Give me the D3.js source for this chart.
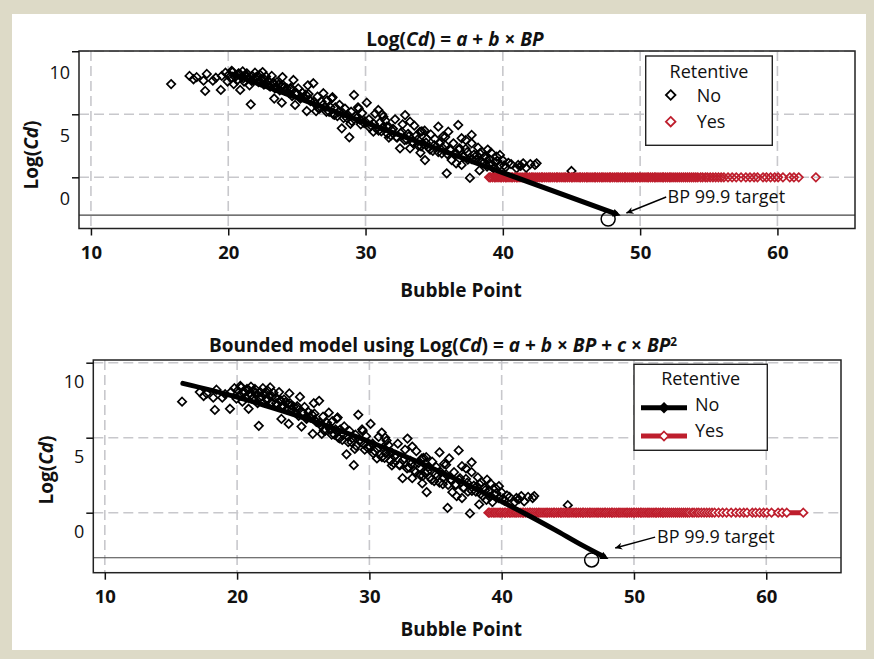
<!DOCTYPE html>
<html><head><meta charset="utf-8">
<script src="https://cdn.jsdelivr.net/npm/d3@7"></script>
<style>body{margin:0;background:#dddac7}svg{display:block}</style>
</head><body><svg id="c" width="874" height="659"></svg>
<script>
// ---------- DATA ----------
const xTicks = [10, 20, 30, 40, 50, 60];
const yTicks = [10, 5, 0];
const xTickLabels = ["10", "20", "30", "40", "50", "60"];
const yTickLabels = ["10", "5", "0"];
const targetLevel = -3;
const seriesNames = ["No", "Yes"];

// Retentive = No : [Bubble Point, Log(Cd)]
const noPoints = [
[15.84,7.40],[17.18,8.04],[17.47,7.78],[17.70,7.94],[18.20,7.67],[18.32,6.85],[18.44,8.20],[18.88,7.67],[19.10,7.90],[19.46,6.93],[19.53,8.04],[19.80,8.30],[19.95,7.60],
[20.05,8.15],[20.20,7.85],[20.30,8.35],[20.40,7.40],[20.55,8.06],[20.65,7.70],[20.75,8.25],[20.87,6.93],[20.95,7.95],[21.05,8.40],[21.15,7.60],[21.25,8.10],[21.35,8.25],[21.45,7.85],[21.55,7.30],[21.64,5.79],[21.75,8.05],[21.85,7.75],[21.95,8.30],[22.08,7.98],[22.20,7.55],[22.30,8.15],[22.45,7.80],[22.60,7.35],[22.75,8.00],
[22.90,7.65],[23.05,7.20],[23.17,8.04],[23.30,7.50],[23.40,7.05],[23.55,7.55],[23.65,7.35],[23.75,6.90],[23.90,5.92],[24.00,7.30],[24.10,7.15],[24.27,7.06],[24.40,6.70],[24.55,7.10],[24.75,7.72],[24.87,5.74],
[25.00,6.60],[25.10,7.05],[25.25,6.25],[25.40,6.70],[25.55,6.35],[25.72,5.26],[25.85,6.60],[26.00,6.05],[26.20,7.46],
[26.35,5.80],[26.50,6.40],[26.65,5.45],[26.80,6.00],[26.93,6.67],[27.05,5.55],[27.20,6.10],[27.35,5.20],[27.54,6.27],[27.65,5.00],[27.80,5.55],[27.95,4.85],[28.10,5.75],[28.27,3.89],[28.35,5.10],[28.50,5.45],[28.65,4.70],[28.82,3.17],[28.95,5.20],[29.16,6.53],[29.30,4.85],[29.45,5.55],[29.60,4.55],[29.75,5.10],[29.90,4.30],[30.09,5.92],
[30.25,4.60],[30.40,4.10],[30.57,3.62],[30.70,5.05],[30.80,3.85],[30.93,5.34],[31.05,4.35],[31.15,3.65],[31.30,4.81],[31.45,4.50],[31.54,4.02],[31.70,4.00],[31.85,3.30],[32.00,3.85],[32.15,4.60],[32.30,3.15],[32.51,2.30],[32.65,3.60],[32.88,4.94],[33.00,3.00],[33.10,3.45],[33.24,4.41],[33.24,2.30],[33.40,2.80],[33.55,4.10],[33.70,3.30],[33.85,2.50],[33.97,3.62],[34.10,3.65],[34.20,2.65],[34.33,1.37],[34.45,3.05],[34.60,2.35],[34.75,3.40],
[34.90,2.10],[35.05,3.05],[35.15,2.45],[35.30,4.02],[35.40,2.70],[35.55,1.90],[35.65,3.25],[35.80,2.55],[35.91,0.32],[36.03,3.62],[36.15,2.20],[36.27,1.37],[36.40,2.70],[36.55,1.85],[36.75,4.15],[36.85,2.30],[37.00,3.10],[37.00,0.98],[37.15,1.65],[37.30,2.25],[37.45,1.40],[37.60,-0.05],[37.73,3.36],[37.73,2.70],[37.90,1.80],
[38.05,1.40],[38.20,2.35],[38.33,1.90],[38.46,2.03],[38.57,1.11],[38.70,1.65],[38.85,0.85],[39.00,1.45],[39.15,1.95],[39.30,0.71],[39.45,1.20],[39.55,1.63],[39.79,1.77],[39.79,0.98],[40.00,1.35],[40.20,0.80],[40.40,1.15],[41.00,0.71],[41.12,0.98],[41.48,1.11],[41.70,0.75],[42.34,0.98],[42.46,1.11],[45.00,0.50],
[20.25,8.45],[20.50,7.95],[20.85,8.20],[21.10,7.85],[21.40,8.00],[21.70,7.65],[22.00,7.90],[22.35,7.55],[22.65,7.75],[22.95,7.30],[23.25,7.45],[23.50,7.10],[23.85,7.25],[24.15,6.85],[24.50,7.00],[24.65,6.45],[24.95,6.70],[25.30,6.35],[25.65,6.55],[25.95,6.10],
[26.25,6.00],[26.55,5.50],[26.90,5.75],[27.15,5.20],[27.45,5.55],[27.75,4.95],[28.05,5.20],[28.40,4.70],[28.70,4.95],[29.00,4.45],[29.35,4.70],[29.65,4.20],[29.95,4.45],[30.30,3.95],[30.60,4.25],[30.95,3.70],[31.25,3.95],[31.60,3.45],[31.90,3.75],[32.25,3.20],[32.55,3.50],[32.85,2.95],[33.15,3.25],[33.50,2.70],[33.80,3.00],[34.05,2.45],[34.40,2.75],[34.70,2.20],[35.00,2.55],[35.30,2.00],[35.60,2.35],[35.95,1.85],[36.20,2.15],
[36.50,1.85],[36.80,2.20],[37.10,1.65],[37.40,2.00],[37.75,1.45],[38.10,1.75],[38.40,1.25],[38.75,1.50],[39.10,1.05],[39.60,1.30],[40.10,0.95],[40.60,1.05],[41.30,0.90],[42.00,1.05],
[22.50,8.35],[23.95,7.95],[25.80,7.30],[27.60,6.35],[29.50,5.45],[31.20,5.00],[32.70,4.20],[34.30,3.70],[35.80,3.20],[37.30,2.95],[38.90,2.20],[23.35,6.25],[26.40,5.25],[28.90,4.25],[31.70,3.15],[34.00,1.95],[36.60,1.10],[38.30,0.55]
];

// Retentive = Yes : Bubble Point values (all at Log(Cd) = 0)
const yesBP = [
39.00,39.10,39.25,39.40,39.50,39.65,39.80,39.90,40.05,40.20,40.30,40.45,40.60,40.70,40.85,41.00,41.10,41.25,41.40,41.55,41.65,41.80,41.95,42.10,42.20,42.35,42.50,42.65,42.80,42.90,
43.05,43.20,43.35,43.45,43.60,43.75,43.90,44.00,44.15,44.30,44.45,44.55,44.70,44.85,45.00,45.10,45.25,45.40,45.55,45.65,45.80,45.95,46.10,46.20,46.35,46.50,46.65,46.75,46.90,
47.05,47.20,47.30,47.45,47.60,47.75,47.85,48.00,48.15,48.30,48.40,48.55,48.70,48.85,48.95,49.10,49.25,49.40,49.50,49.65,49.80,49.95,50.05,50.20,50.35,50.50,50.60,50.75,50.90,
51.05,51.15,51.30,51.45,51.60,51.70,51.85,52.00,52.15,52.25,52.40,52.55,52.70,52.85,53.00,53.15,53.30,53.45,53.60,53.75,53.90,54.05,54.20,54.40,54.55,54.75,54.90,
55.10,55.30,55.50,55.70,55.90,56.10,56.40,56.70,57.00,57.35,57.70,58.00,58.30,58.55,58.95,59.20,59.50,59.80,60.05,60.40,60.90,61.20,61.55,62.80
];
const yesValue = 0;

// fitted model lines: [Bubble Point, Log(Cd)]
const linearFit = [[20.3, 8.18], [48.2, -2.88]];
const boundedFit = [[15.9,8.62],[18,8.17],[20,7.70],[22,7.18],[24,6.63],[26,6.04],[28,5.40],[30,4.73],[32,4.01],[34,3.26],[36,2.46],[38,1.62],[40,0.74],[42,-0.17],[44,-1.13],[46,-2.13],[47.7,-2.92]];

// target markers (circle) and annotation anchors in data units
const targetTop = {circle:[47.67,-3.31], tip:[49.0,-2.83], tail:[51.9,-1.56], text:[52.0,-2.05]};
const targetBottom = {circle:[46.8,-3.15], tip:[48.58,-2.35], tail:[51.6,-1.63], text:[51.75,-2.02]};

// ---------- DRAW ----------
const FONT = "'Open Sans', sans-serif";
const RED = "#be1e2d";
const svg = d3.select("#c");
svg.append("rect").attr("width",874).attr("height",659).attr("fill","#dddac7");
svg.append("rect").attr("x",12).attr("y",14).attr("width",854).attr("height",636).attr("fill","#fff");

const defs = svg.append("defs");
defs.append("marker").attr("id","annArrow").attr("viewBox","0 0 10 10").attr("refX",10).attr("refY",5)
  .attr("markerWidth",10).attr("markerHeight",7).attr("markerUnits","userSpaceOnUse").attr("orient","auto")
  .append("path").attr("d","M0,0L10,5L0,10L3,5Z").attr("fill","#000");
defs.append("marker").attr("id","fitArrow").attr("viewBox","0 0 10 10").attr("refX",3).attr("refY",5)
  .attr("markerWidth",9).attr("markerHeight",8).attr("markerUnits","userSpaceOnUse").attr("orient","auto")
  .append("path").attr("d","M0,0L10,5L0,10Z").attr("fill","#000");

const diamond = r => `M0,${-r}L${r},0L0,${r}L${-r},0Z`;

function richText(sel, parts){
  parts.forEach(p=>{
    const t = sel.append("tspan").text(p.t);
    if(p.i) t.attr("font-style","italic");
    if(p.sup) t.attr("font-size","0.62em").attr("dy","-0.55em");
  });
}

function drawPanel(cfg){
  const x = d3.scaleLinear().domain([9.13, 65.65]).range([cfg.left, cfg.right]);
  const y = d3.scaleLinear().domain(cfg.yDomain).range([cfg.bottom, cfg.top]);
  const g = svg.append("g");
  const grid = "#c8c8cc";
  g.append("g").selectAll("line").data(xTicks).join("line")
    .attr("x1",d=>x(d)).attr("x2",d=>x(d)).attr("y1",cfg.top).attr("y2",cfg.bottom)
    .attr("stroke",grid).attr("stroke-width",1.6).attr("stroke-dasharray","10,5");
  g.append("g").selectAll("line").data(yTicks).join("line")
    .attr("x1",cfg.left).attr("x2",cfg.right).attr("y1",d=>y(d)).attr("y2",d=>y(d))
    .attr("stroke",grid).attr("stroke-width",1.6).attr("stroke-dasharray","10,5");
  g.append("line").attr("x1",cfg.left).attr("x2",cfg.right)
    .attr("y1",y(targetLevel)).attr("y2",y(targetLevel)).attr("stroke","#444").attr("stroke-width",1.1);

  if(cfg.yesLine){
    g.append("path").datum(yesBP)
      .attr("d", d3.line().x(d=>x(d)).y(()=>y(yesValue)))
      .attr("fill","none").attr("stroke",RED).attr("stroke-width",5);
  }
  g.append("g").selectAll("path").data(noPoints).join("path")
    .attr("transform",d=>`translate(${x(d[0])},${y(d[1])})`)
    .attr("d",diamond(4.2)).attr("fill","none").attr("stroke","#000").attr("stroke-width",1.7);
  g.append("g").selectAll("path").data(yesBP).join("path")
    .attr("transform",d=>`translate(${x(d)},${y(yesValue)})`)
    .attr("d",diamond(4.2)).attr("fill",cfg.yesLine?"#fff":"none").attr("stroke",RED).attr("stroke-width",1.7);
  g.append("path").datum(cfg.fit)
    .attr("d", d3.line().curve(d3.curveMonotoneX).x(d=>x(d[0])).y(d=>y(d[1])))
    .attr("fill","none").attr("stroke","#000").attr("stroke-width",5).attr("stroke-linecap","round")
    .attr("marker-end","url(#fitArrow)");
  const tg = cfg.target;
  g.append("circle").attr("cx",x(tg.circle[0])).attr("cy",y(tg.circle[1])).attr("r",7)
    .attr("fill","none").attr("stroke","#000").attr("stroke-width",1.5);
  g.append("line").attr("x1",x(tg.tail[0])).attr("y1",y(tg.tail[1])).attr("x2",x(tg.tip[0])).attr("y2",y(tg.tip[1]))
    .attr("stroke","#000").attr("stroke-width",1.4).attr("marker-end","url(#annArrow)");
  g.append("text").attr("x",x(tg.text[0])).attr("y",y(tg.text[1]))
    .attr("font-family",FONT).attr("font-size",18).attr("fill","#111").text("BP 99.9 target");

  g.append("rect").attr("x",cfg.left).attr("y",cfg.top).attr("width",cfg.right-cfg.left).attr("height",cfg.bottom-cfg.top)
    .attr("fill","none").attr("stroke","#222").attr("stroke-width",1.5);

  const ax = g.append("g").attr("transform",`translate(0,${cfg.bottom})`)
    .call(d3.axisBottom(x).tickValues(xTicks).tickFormat((d,i)=>xTickLabels[i]).tickSize(7).tickPadding(10));
  ax.select(".domain").remove();
  ax.selectAll("line").attr("stroke","#111").attr("stroke-width",1.5);
  ax.selectAll("text").attr("font-family",FONT).attr("font-size",18.5).attr("font-weight","bold").attr("fill","#111");
  const ay = g.append("g").attr("transform",`translate(${cfg.left},0)`)
    .call(d3.axisLeft(y).tickValues(yTicks).tickFormat((d,i)=>yTickLabels[i]).tickSize(7).tickPadding(2));
  ay.select(".domain").remove();
  ay.selectAll("line").attr("stroke","#111").attr("stroke-width",1.5);
  ay.selectAll("text").attr("font-family",FONT).attr("font-size",18).attr("fill","#111")
    .attr("transform",`translate(0,${cfg.labelShift})`);

  g.append("text").attr("x",(cfg.left+cfg.right)/2 - 6).attr("y",cfg.xTitleY).attr("text-anchor","middle")
    .attr("font-family",FONT).attr("font-size",19).attr("font-weight","bold").attr("fill","#111").text("Bubble Point");
  const yt = g.append("text").attr("transform",`translate(${cfg.yTitleX},${cfg.yTitleY}) rotate(-90)`)
    .attr("text-anchor","middle").attr("font-family",FONT).attr("font-size",19).attr("font-weight","bold").attr("fill","#111");
  richText(yt,[{t:"Log("},{t:"Cd",i:true},{t:")"}]);
  const tt = g.append("text").attr("x",cfg.titleX).attr("y",cfg.titleY).attr("text-anchor","middle")
    .attr("font-family",FONT).attr("font-size",19).attr("font-weight","bold").attr("fill","#111");
  richText(tt, cfg.title);

  const L = cfg.legend;
  const lg = g.append("g");
  lg.append("rect").attr("x",L.x).attr("y",L.y).attr("width",L.w).attr("height",L.h)
    .attr("fill","#fff").attr("stroke","#222").attr("stroke-width",1.4);
  lg.append("text").attr("x",L.x+L.w/2).attr("y",L.y+L.titleDy).attr("text-anchor","middle")
    .attr("font-family",FONT).attr("font-size",18).attr("fill","#111").text("Retentive");
  seriesNames.forEach((s,i)=>{
    const cy = L.y + L.rowY[i];
    const col = i===0 ? "#000" : RED;
    if(cfg.yesLine){
      lg.append("line").attr("x1",L.x+7).attr("x2",L.x+53).attr("y1",cy).attr("y2",cy)
        .attr("stroke",col).attr("stroke-width",5);
      lg.append("path").attr("transform",`translate(${L.x+30},${cy})`).attr("d",diamond(4.5))
        .attr("fill",i===0?"#000":"#fff").attr("stroke",col).attr("stroke-width",1.7);
    } else {
      lg.append("path").attr("transform",`translate(${L.x+25},${cy})`).attr("d",diamond(4.8))
        .attr("fill","none").attr("stroke",col).attr("stroke-width",1.8);
    }
    lg.append("text").attr("x",L.x+L.textX).attr("y",cy+L.textDy[i])
      .attr("font-family",FONT).attr("font-size",18).attr("fill","#111").text(s);
  });
}

drawPanel({
  left:79, right:855, top:51, bottom:228.5, yDomain:[-4.06,10.02], labelShift:21,
  fit: linearFit, target: targetTop, yesLine:false,
  xTitleY:297, yTitleX:38, yTitleY:155, titleX:455, titleY:46,
  title:[{t:"Log("},{t:"Cd",i:true},{t:") = "},{t:"a",i:true},{t:" + "},{t:"b",i:true},{t:" × "},{t:"BP",i:true}],
  legend:{x:645.7,y:56,w:126.6,h:89.3,titleDy:22,rowY:[39,65.7],textX:51,textDy:[6.5,6.5]}
});
drawPanel({
  left:93.3, right:841, top:360, bottom:572.7, yDomain:[-4.0,10.18], labelShift:19.5,
  fit: boundedFit, target: targetBottom, yesLine:true,
  xTitleY:636, yTitleX:53, yTitleY:470, titleX:443, titleY:352,
  title:[{t:"Bounded model using Log("},{t:"Cd",i:true},{t:") =  "},{t:"a",i:true},{t:" + "},{t:"b",i:true},{t:" × "},{t:"BP",i:true},{t:" +  "},{t:"c",i:true},{t:" × "},{t:"BP",i:true},{t:"2",sup:true}],
  legend:{x:634,y:364.3,w:133.3,h:86,titleDy:20.5,rowY:[43.4,71.7],textX:61,textDy:[3,0.5]}
});
</script></body></html>
